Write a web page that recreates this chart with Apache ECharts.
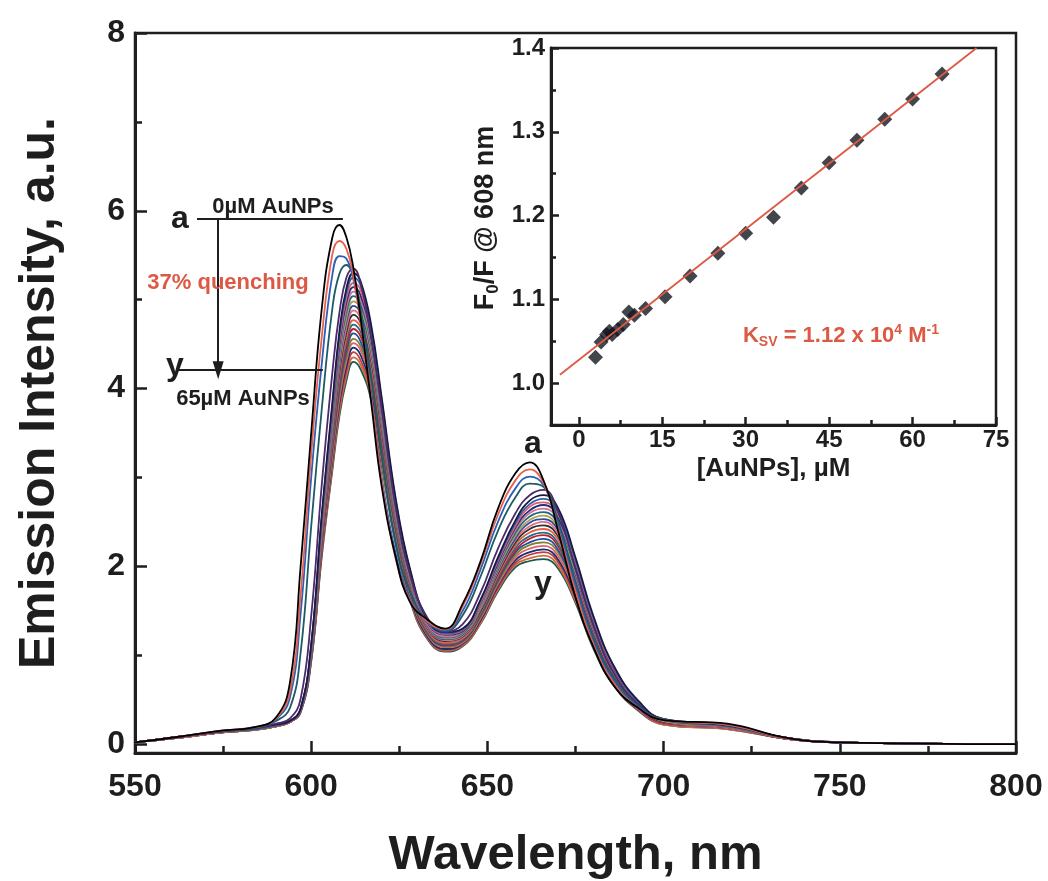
<!DOCTYPE html>
<html><head><meta charset="utf-8">
<script src="https://cdn.jsdelivr.net/npm/echarts@6/dist/echarts.min.js"></script>
<style>html,body{margin:0;padding:0;background:#fff}#chart{width:1048px;height:881px}</style>
</head><body><div id="chart"></div>
<script>
// ---------- main panel: emission spectra (a .. y) ----------
const wavelengths = [550,562,574,584,590,594,597,600,603,606,608,610,612,614,617,620,624,628,633,638,643,648,653,658,662,666,670,675,680,686,693,700,718,735,750,800];
const curveA = [0.02,0.08,0.15,0.19,0.30,0.70,2.00,3.50,4.90,5.70,5.84,5.70,5.35,4.80,3.85,2.90,2.10,1.60,1.40,1.30,1.58,2.05,2.65,3.05,3.17,2.96,2.41,1.65,1.10,0.65,0.40,0.27,0.23,0.07,0.02,0.00];
const curveB = [0.02,0.08,0.15,0.19,0.29,0.60,1.68,3.26,4.58,5.51,5.66,5.57,5.26,4.76,3.90,2.96,2.08,1.62,1.38,1.29,1.55,2.02,2.58,2.97,3.09,2.93,2.43,1.72,1.13,0.68,0.40,0.27,0.22,0.07,0.02,0.00];
const curveC = [0.02,0.08,0.15,0.19,0.28,0.53,1.47,3.00,4.28,5.28,5.49,5.46,5.22,4.79,3.92,3.00,2.14,1.64,1.37,1.28,1.50,1.96,2.50,2.88,3.01,2.91,2.47,1.77,1.16,0.70,0.41,0.27,0.22,0.07,0.02,0.00];
const curveD = [0.02,0.08,0.14,0.18,0.26,0.41,1.03,2.45,3.77,4.90,5.29,5.39,5.26,4.90,4.12,3.25,2.25,1.72,1.38,1.27,1.45,1.88,2.40,2.78,2.93,2.89,2.52,1.82,1.20,0.74,0.42,0.28,0.22,0.07,0.02,0.00];
const curveE = [0.02,0.08,0.14,0.18,0.23,0.29,0.51,1.44,2.92,4.18,4.85,5.25,5.35,5.19,4.58,3.78,2.66,1.92,1.42,1.26,1.35,1.70,2.20,2.60,2.80,2.86,2.62,1.97,1.34,0.79,0.44,0.28,0.22,0.07,0.02,0.00];
const curveF = [0.02,0.08,0.14,0.18,0.22,0.26,0.40,1.12,2.58,3.84,4.64,5.13,5.30,5.21,4.72,3.90,2.76,1.98,1.40,1.26,1.30,1.62,2.10,2.52,2.74,2.80,2.66,2.10,1.45,0.87,0.48,0.28,0.21,0.07,0.02,0.00];
const curveG = [0.02,0.08,0.14,0.18,0.22,0.26,0.40,1.11,2.56,3.80,4.59,5.08,5.25,5.16,4.68,3.86,2.73,1.96,1.39,1.25,1.29,1.61,2.08,2.49,2.70,2.76,2.62,2.07,1.43,0.86,0.47,0.28,0.21,0.07,0.02,0.00];
const curveH = [0.02,0.08,0.14,0.18,0.22,0.26,0.40,1.10,2.53,3.76,4.54,5.02,5.19,5.11,4.63,3.82,2.71,1.94,1.38,1.24,1.28,1.59,2.06,2.46,2.67,2.72,2.59,2.05,1.41,0.85,0.47,0.28,0.21,0.07,0.02,0.00];
const curveI = [0.02,0.08,0.14,0.18,0.22,0.26,0.39,1.09,2.51,3.72,4.49,4.97,5.14,5.05,4.59,3.78,2.68,1.92,1.37,1.23,1.27,1.58,2.04,2.44,2.63,2.69,2.55,2.02,1.39,0.84,0.46,0.27,0.21,0.07,0.02,0.00];
const curveJ = [0.02,0.08,0.14,0.18,0.22,0.26,0.39,1.08,2.48,3.68,4.44,4.91,5.09,5.00,4.54,3.74,2.65,1.90,1.35,1.21,1.26,1.56,2.02,2.41,2.60,2.65,2.52,1.99,1.37,0.82,0.46,0.27,0.21,0.07,0.02,0.00];
const curveK = [0.02,0.08,0.14,0.18,0.22,0.26,0.39,1.07,2.46,3.64,4.39,4.86,5.04,4.95,4.50,3.70,2.63,1.89,1.34,1.20,1.25,1.55,2.00,2.38,2.56,2.61,2.48,1.97,1.35,0.81,0.45,0.27,0.20,0.07,0.02,0.00];
const curveL = [0.02,0.08,0.14,0.18,0.22,0.26,0.39,1.06,2.43,3.60,4.34,4.80,4.98,4.90,4.45,3.66,2.60,1.87,1.33,1.19,1.24,1.53,1.98,2.35,2.52,2.57,2.44,1.94,1.33,0.80,0.45,0.26,0.20,0.07,0.02,0.00];
const curveM = [0.02,0.08,0.14,0.17,0.21,0.26,0.39,1.05,2.41,3.56,4.29,4.75,4.93,4.85,4.41,3.62,2.57,1.85,1.32,1.18,1.23,1.52,1.96,2.32,2.49,2.53,2.41,1.91,1.31,0.79,0.44,0.26,0.20,0.07,0.02,0.00];
const curveN = [0.02,0.08,0.14,0.17,0.21,0.26,0.38,1.04,2.38,3.52,4.24,4.69,4.88,4.79,4.36,3.58,2.54,1.83,1.31,1.17,1.22,1.51,1.94,2.30,2.45,2.50,2.37,1.88,1.29,0.78,0.43,0.26,0.20,0.07,0.02,0.00];
const curveO = [0.02,0.08,0.14,0.17,0.21,0.26,0.38,1.03,2.36,3.48,4.19,4.64,4.83,4.74,4.32,3.54,2.52,1.81,1.30,1.16,1.21,1.49,1.92,2.27,2.42,2.46,2.34,1.86,1.27,0.77,0.43,0.25,0.20,0.07,0.02,0.00];
const curveP = [0.02,0.07,0.13,0.17,0.21,0.25,0.38,1.02,2.33,3.44,4.14,4.58,4.77,4.69,4.27,3.50,2.49,1.79,1.28,1.14,1.19,1.48,1.90,2.24,2.38,2.42,2.30,1.83,1.26,0.75,0.42,0.25,0.19,0.06,0.02,0.00];
const curveQ = [0.02,0.07,0.13,0.17,0.21,0.25,0.38,1.01,2.31,3.40,4.09,4.53,4.72,4.64,4.23,3.46,2.46,1.77,1.27,1.13,1.18,1.46,1.88,2.21,2.34,2.38,2.26,1.80,1.24,0.74,0.42,0.25,0.19,0.06,0.02,0.00];
const curveR = [0.02,0.07,0.13,0.17,0.21,0.25,0.38,1.00,2.28,3.36,4.04,4.47,4.67,4.59,4.18,3.42,2.44,1.75,1.26,1.12,1.17,1.45,1.86,2.18,2.31,2.35,2.23,1.78,1.22,0.73,0.41,0.24,0.19,0.06,0.02,0.00];
const curveS = [0.02,0.07,0.13,0.17,0.21,0.25,0.37,0.99,2.26,3.32,3.99,4.42,4.62,4.53,4.14,3.38,2.41,1.73,1.25,1.11,1.16,1.44,1.84,2.16,2.27,2.31,2.19,1.75,1.20,0.72,0.40,0.24,0.19,0.06,0.02,0.00];
const curveT = [0.02,0.07,0.13,0.16,0.20,0.25,0.37,0.98,2.23,3.28,3.94,4.36,4.56,4.48,4.09,3.34,2.38,1.71,1.24,1.10,1.15,1.42,1.82,2.13,2.24,2.27,2.16,1.72,1.18,0.71,0.40,0.24,0.19,0.06,0.02,0.00];
const curveU = [0.02,0.07,0.13,0.16,0.20,0.25,0.37,0.97,2.21,3.24,3.89,4.31,4.51,4.43,4.05,3.30,2.36,1.70,1.23,1.09,1.14,1.41,1.80,2.10,2.20,2.23,2.12,1.70,1.16,0.70,0.39,0.23,0.18,0.06,0.02,0.00];
const curveV = [0.02,0.07,0.13,0.16,0.20,0.25,0.37,0.96,2.18,3.20,3.84,4.25,4.46,4.38,4.00,3.26,2.33,1.68,1.21,1.07,1.13,1.39,1.78,2.07,2.16,2.19,2.08,1.67,1.14,0.68,0.39,0.23,0.18,0.06,0.02,0.00];
const curveW = [0.02,0.07,0.13,0.16,0.20,0.25,0.37,0.95,2.16,3.16,3.79,4.20,4.41,4.32,3.96,3.22,2.30,1.66,1.20,1.06,1.12,1.38,1.76,2.04,2.13,2.16,2.05,1.64,1.12,0.67,0.38,0.23,0.18,0.06,0.02,0.00];
const curveX = [0.02,0.07,0.13,0.16,0.20,0.25,0.36,0.94,2.13,3.12,3.74,4.14,4.35,4.27,3.91,3.18,2.27,1.64,1.19,1.05,1.11,1.36,1.74,2.02,2.09,2.12,2.01,1.61,1.10,0.66,0.38,0.22,0.17,0.06,0.02,0.00];
const curveY = [0.02,0.07,0.13,0.16,0.20,0.25,0.36,0.93,2.11,3.08,3.69,4.09,4.30,4.22,3.87,3.14,2.25,1.62,1.18,1.04,1.10,1.35,1.72,1.99,2.06,2.08,1.98,1.59,1.08,0.65,0.37,0.22,0.17,0.06,0.02,0.00];
const curveNames = ['a','b','c','d','e','f','g','h','i','j','k','l','m','n','o','p','q','r','s','t','u','v','w','x','y'];

const mainXTicks = [550,600,650,700,750,800];
const mainXMinor = [575,625,675,725,775];
const mainYTicks = [0,2,4,6,8];
const mainYMinor = [1,3,5,7];

// ---------- inset: Stern-Volmer plot ----------
const insetConc  = [3,4,5,5.5,6,7,8,9,10,12,15.5,20,25,30,35,40,45,50,55,60,65.3];
const insetRatio = [1.031,1.049,1.058,1.062,1.058,1.064,1.070,1.085,1.081,1.089,1.103,1.128,1.155,1.179,1.198,1.233,1.263,1.290,1.315,1.339,1.369];
const fitConc  = [-3.4, 71.5];
const fitRatio = [1.010, 1.400];
const insetXTicks = [0,15,30,45,60,75];
const insetXMinor = [7.5,22.5,37.5,52.5,67.5];
const insetYTicks = [1.0,1.1,1.2,1.3,1.4];
const insetYMinor = [1.05,1.15,1.25,1.35];

const FONT = '"Liberation Sans", Arial, Helvetica, sans-serif';
const INK = '#1e1e1e';
const ACCENT = '#dc5a44';
const lineColors = ['#000000','#e8604c','#2b5fb8','#1f5a66','#4a2a6a','#1a1a40','#3060b0','#e06070','#203070','#d070a0',
                    '#206a7a','#b0a050','#2a4ea8','#e07080','#303030','#e0604c','#287080','#c02030','#2050a0','#808030',
                    '#e06070','#183070','#c04040','#d06a40','#1a5a50'];

const spectra = [curveA,curveB,curveC,curveD,curveE,curveF,curveG,curveH,curveI,curveJ,curveK,curveL,curveM,
                 curveN,curveO,curveP,curveQ,curveR,curveS,curveT,curveU,curveV,curveW,curveX,curveY];

const series = [];
for (let k = spectra.length - 1; k >= 0; k--) {
  series.push({
    type: 'line', name: curveNames[k], xAxisIndex: 0, yAxisIndex: 0,
    data: wavelengths.map((w, i) => [w, spectra[k][i]]),
    smooth: 0.45, showSymbol: false, silent: true,
    lineStyle: { width: 1.8, color: lineColors[k] }
  });
}
// annotation lines (quenching arrow) in data coordinates
series.push({
  type: 'line', xAxisIndex: 0, yAxisIndex: 0, data: [], silent: true,
  markLine: {
    silent: true, animation: false, symbol: ['none', 'none'], label: { show: false },
    lineStyle: { color: INK, width: 2, type: 'solid' },
    data: [
      [{ coord: [567.6, 5.905] }, { coord: [609.0, 5.905] }],
      [{ coord: [562.2, 4.207] }, { coord: [603.3, 4.207] }],
      [{ coord: [573.6, 5.905], symbol: 'none' }, { coord: [573.6, 4.207], symbol: 'triangle', symbolSize: [11, 18] }]
    ]
  }
});
// inset series
series.push({
  type: 'scatter', xAxisIndex: 2, yAxisIndex: 2,
  data: insetConc.map((c, i) => [c, insetRatio[i]]),
  symbol: 'diamond', symbolSize: 15, itemStyle: { color: '#14161f' }, silent: true, z: 3
});
series.push({
  type: 'line', xAxisIndex: 2, yAxisIndex: 2,
  data: fitConc.map((c, i) => [c, fitRatio[i]]),
  showSymbol: false, silent: true, lineStyle: { color: ACCENT, width: 1.8 }, z: 4
});

const tickStyle = { color: INK, width: 2.5 };
const option = {
  animation: false,
  backgroundColor: '#ffffff',
  textStyle: { fontFamily: FONT },
  grid: [
    { left: 135, top: 33, width: 881, height: 720, show: true, borderColor: INK, borderWidth: 2.5, outerBoundsMode: 'none' },
    { left: 551, top: 48, width: 445, height: 377, show: true, borderColor: INK, borderWidth: 2.5, backgroundColor: '#ffffff', outerBoundsMode: 'none' }
  ],
  xAxis: [
    { gridIndex: 0, type: 'value', min: 550, max: 800, position: 'bottom',
      axisLine: { show: true, onZero: false, lineStyle: { color: INK, width: 3 } },
      axisTick: { show: true, inside: true, length: 12, customValues: mainXTicks, lineStyle: tickStyle },
      axisLabel: { customValues: mainXTicks, fontSize: 32, fontWeight: 'bold', color: INK, margin: 18, fontFamily: FONT },
      splitLine: { show: false },
      name: 'Wavelength, nm', nameLocation: 'middle', nameGap: 78,
      nameTextStyle: { fontSize: 49, fontWeight: 'bold', color: INK, fontFamily: FONT } },
    { gridIndex: 0, type: 'value', min: 550, max: 800, position: 'bottom',
      axisLine: { show: false, onZero: false }, axisLabel: { show: false }, splitLine: { show: false },
      axisTick: { show: true, inside: true, length: 7, customValues: mainXMinor, lineStyle: tickStyle } },
    { gridIndex: 1, type: 'value', min: -5, max: 75, position: 'bottom',
      axisLine: { show: true, onZero: false, lineStyle: { color: INK, width: 3 } },
      axisTick: { show: true, inside: true, length: 8, customValues: insetXTicks, lineStyle: tickStyle },
      axisLabel: { customValues: insetXTicks, fontSize: 24, fontWeight: 'bold', color: INK, margin: 3, fontFamily: FONT },
      splitLine: { show: false },
      name: '[AuNPs], µM', nameLocation: 'middle', nameGap: 31,
      nameTextStyle: { fontSize: 26, fontWeight: 'bold', color: INK, fontFamily: FONT } },
    { gridIndex: 1, type: 'value', min: -5, max: 75, position: 'bottom',
      axisLine: { show: false, onZero: false }, axisLabel: { show: false }, splitLine: { show: false },
      axisTick: { show: true, inside: true, length: 5, customValues: insetXMinor, lineStyle: tickStyle } }
  ],
  yAxis: [
    { gridIndex: 0, type: 'value', min: -0.1, max: 8, position: 'left',
      axisLine: { show: true, onZero: false, lineStyle: { color: INK, width: 3 } },
      axisTick: { show: true, inside: true, length: 12, customValues: mainYTicks, lineStyle: tickStyle },
      axisLabel: { customValues: mainYTicks, fontSize: 32, fontWeight: 'bold', color: INK, margin: 10, fontFamily: FONT },
      splitLine: { show: false },
      name: 'Emission Intensity, a.u.', nameLocation: 'middle', nameGap: 70,
      nameTextStyle: { fontSize: 50, fontWeight: 'bold', color: INK, fontFamily: FONT } },
    { gridIndex: 0, type: 'value', min: -0.1, max: 8, position: 'left',
      axisLine: { show: false, onZero: false }, axisLabel: { show: false }, splitLine: { show: false },
      axisTick: { show: true, inside: true, length: 7, customValues: mainYMinor, lineStyle: tickStyle } },
    { gridIndex: 1, type: 'value', min: 0.95, max: 1.4, position: 'left',
      axisLine: { show: true, onZero: false, lineStyle: { color: INK, width: 3 } },
      axisTick: { show: true, inside: true, length: 8, customValues: insetYTicks, lineStyle: tickStyle },
      axisLabel: { customValues: insetYTicks, fontSize: 24, fontWeight: 'bold', color: INK, margin: 6, fontFamily: FONT,
                   formatter: v => Number(v).toFixed(1) },
      splitLine: { show: false } },
    { gridIndex: 1, type: 'value', min: 0.95, max: 1.4, position: 'left',
      axisLine: { show: false, onZero: false }, axisLabel: { show: false }, splitLine: { show: false },
      axisTick: { show: true, inside: true, length: 5, customValues: insetYMinor, lineStyle: tickStyle } }
  ],
  series: series,
  graphic: [
    { type: 'text', x: 486, y: 218, rotation: Math.PI / 2, z: 10, style: {
        text: '{n|F}{sub|0}{n|/F @ 608 nm}', align: 'center', verticalAlign: 'middle', fill: INK,
        fontFamily: FONT, fontWeight: 'bold', fontSize: 27,
        rich: { n: { fontSize: 27, fontWeight: 'bold', fill: INK, lineHeight: 31, verticalAlign: 'middle', fontFamily: FONT },
                sub: { fontSize: 17, fontWeight: 'bold', fill: INK, lineHeight: 17, verticalAlign: 'bottom', fontFamily: FONT } } } },
    { type: 'text', x: 180, y: 219, z: 10, style: { text: 'a', fontSize: 32, fontWeight: 'bold', fontFamily: FONT, fill: INK, align: 'center', verticalAlign: 'middle' } },
    { type: 'text', x: 273, y: 207, z: 10, style: { text: '0µM AuNPs', fontSize: 22, fontWeight: 'bold', fontFamily: FONT, fill: INK, align: 'center', verticalAlign: 'middle' } },
    { type: 'text', x: 228, y: 283, z: 10, style: { text: '37% quenching', fontSize: 22, fontWeight: 'bold', fontFamily: FONT, fill: ACCENT, align: 'center', verticalAlign: 'middle' } },
    { type: 'text', x: 175, y: 366, z: 10, style: { text: 'y', fontSize: 32, fontWeight: 'bold', fontFamily: FONT, fill: INK, align: 'center', verticalAlign: 'middle' } },
    { type: 'text', x: 243, y: 399, z: 10, style: { text: '65µM AuNPs', fontSize: 22, fontWeight: 'bold', fontFamily: FONT, fill: INK, align: 'center', verticalAlign: 'middle' } },
    { type: 'text', x: 533, y: 444, z: 10, style: { text: 'a', fontSize: 32, fontWeight: 'bold', fontFamily: FONT, fill: INK, align: 'center', verticalAlign: 'middle' } },
    { type: 'text', x: 543, y: 584, z: 10, style: { text: 'y', fontSize: 32, fontWeight: 'bold', fontFamily: FONT, fill: INK, align: 'center', verticalAlign: 'middle' } },
    { type: 'text', x: 841, y: 336, z: 10, style: {
        text: '{n|K}{sub|SV}{n| = 1.12 x 10}{sup|4}{n| M}{sup|-1}',
        align: 'center', verticalAlign: 'middle', fill: ACCENT, fontFamily: FONT, fontWeight: 'bold', fontSize: 22,
        rich: { n: { fontSize: 22, fontWeight: 'bold', fill: ACCENT, lineHeight: 26, verticalAlign: 'middle', fontFamily: FONT },
                sub: { fontSize: 14, fontWeight: 'bold', fill: ACCENT, lineHeight: 14, verticalAlign: 'bottom', fontFamily: FONT },
                sup: { fontSize: 14, fontWeight: 'bold', fill: ACCENT, lineHeight: 14, verticalAlign: 'top', fontFamily: FONT } } } }
  ]
};
const chart = echarts.init(document.getElementById('chart'), null, { renderer: 'canvas' });
chart.setOption(option);
</script>
</body></html>
